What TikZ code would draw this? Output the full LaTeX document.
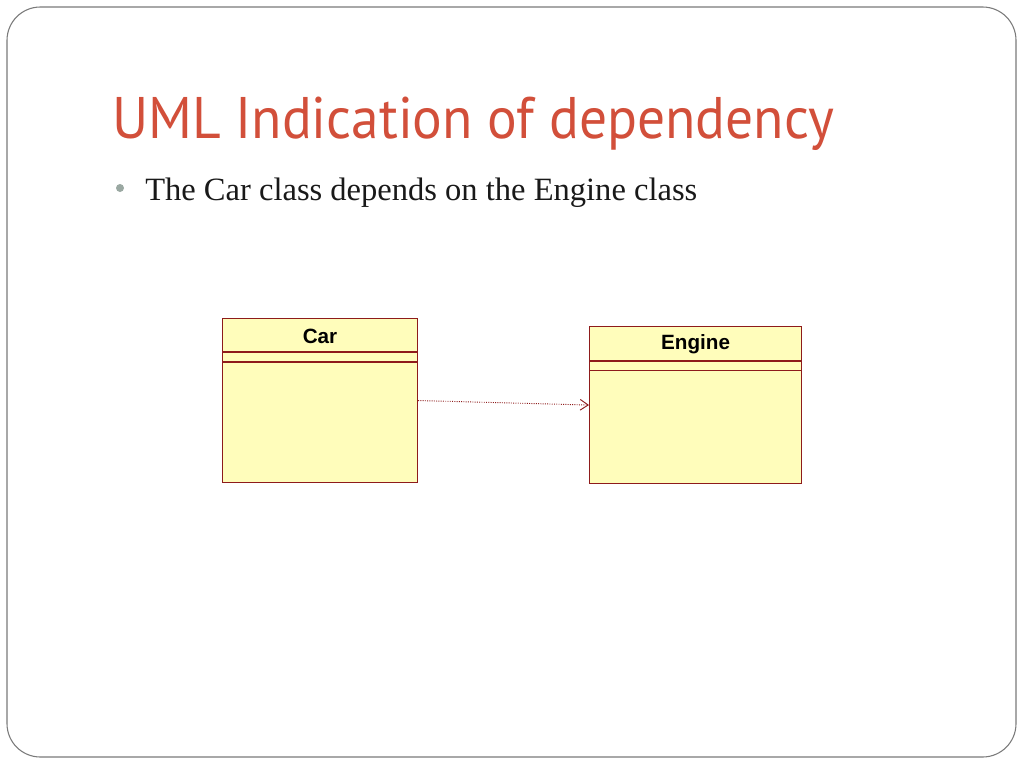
\documentclass[tikz,border=0pt]{standalone}
\usepackage{fontspec}
\setmainfont{Liberation Serif}
\newfontfamily\titlefont[FakeStretch=0.945]{PT Sans}
\newfontfamily\boxfont{Liberation Sans}
\usetikzlibrary{calc, positioning, arrows.meta}

\definecolor{titlered}{HTML}{D24F3A}
\definecolor{bulletgray}{HTML}{9AA8A2}
\definecolor{framegray}{HTML}{7A7A7A}
\definecolor{boxfill}{HTML}{FFFDBB}
\definecolor{boxline}{HTML}{8E1B1B}

\tikzset{
	classbox/.style={draw=boxline, fill=boxfill, line width=0.8pt, rectangle, anchor=north west, inner sep=0pt},
	classname/.style={font=\boxfont\bfseries\fontsize{15.5}{18}\selectfont, inner sep=0pt},
	classline/.style={draw=boxline, line width=0.8pt},
	depends/.style={draw=boxline, densely dotted, line width=0.7pt, -{Straight Barb[length=6pt, width=8pt, line width=0.7pt]}}
}

\begin{document}
\begin{tikzpicture}[x=0.75pt, y=-0.75pt]
		\useasboundingbox (0,0) rectangle (1024,768);
		\filldraw[white] (0,0) rectangle (1024,768);
		
		\draw[framegray, line width=0.8pt, rounded corners=25pt] (7,7) rectangle (1016,757);
		
		\node[anchor=base west, text=titlered, inner sep=0pt, font=\titlefont\fontsize{44}{50}\selectfont] (title) at (112,138) {UML Indication of dependency};
		
		\node[circle, fill=bulletgray, inner sep=0pt, minimum size=6pt] (bullet) at (120,188) {};
		\node[anchor=base west, inner sep=0pt, font=\fontsize{24.4}{28}\selectfont, text=black!90] (point) at (145,200) {The Car class depends on the Engine class};
		
		\node[classbox, minimum width=146.25pt, minimum height=123pt] (car) at (222,318) {};
		\node[classbox, minimum width=159pt, minimum height=117.75pt] (engine) at (589,326) {};
		
		\node[classname] (carname) at ($(car.north)+(0,18)$) {Car};
		\node[classname] (enginename) at ($(engine.north)+(0,18.5)$) {Engine};
		
		\draw[classline] ($(car.north west)+(0,34)$) -- ($(car.north east)+(0,34)$);
		\draw[classline] ($(car.north west)+(0,44)$) -- ($(car.north east)+(0,44)$);
		\draw[classline] ($(engine.north west)+(0,35)$) -- ($(engine.north east)+(0,35)$);
		\draw[classline] ($(engine.north west)+(0,44.5)$) -- ($(engine.north east)+(0,44.5)$);
		
		\draw[depends] (car.east) -- (engine.west);

	\end{tikzpicture}
\end{document}
